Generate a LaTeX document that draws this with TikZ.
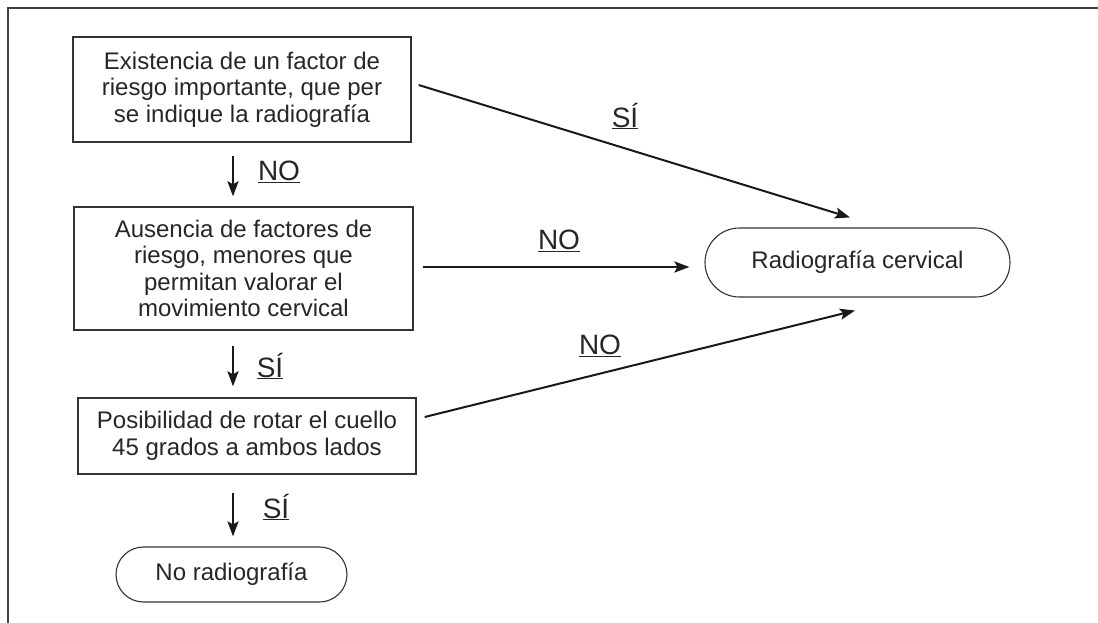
\documentclass[tikz,border=0pt]{standalone}
\usepackage{fontspec}
\setmainfont{Liberation Sans}
\usetikzlibrary{arrows.meta,calc,shapes.misc}
\begin{document}
\begin{tikzpicture}[x=1pt,y=-1pt,
  txt/.style={font=\fontsize{24}{26.5}\selectfont, text=black!85, align=center, inner sep=0pt},
  box/.style={txt, draw=black!80, line width=1.3pt, rectangle},
  term/.style={txt, draw=black!80, line width=1.1pt, rounded rectangle},
  lab/.style={font=\fontsize{28}{30}\selectfont, text=black!85, inner sep=0pt},
  arr/.style={line width=2pt, draw=black!90, -{Stealth[length=15pt,width=11pt,inset=3pt]}},
  downarr/.style={arr, line width=2.4pt},
  frameline/.style={line width=2.2pt, draw=black!75}]
\useasboundingbox (0,0) rectangle (1098,623);
% frame (cropped)
\coordinate (fa) at (8,623);
\coordinate (fb) at (8,8);
\coordinate (fc) at (1098,8);
\draw[frameline] (fa) -- (fb) -- (fc);

% nodes
\node[box, minimum width=338pt, minimum height=105pt] (b1) at (242,89.5)
  {Existencia de un factor de\\riesgo importante, que per\\se indique la radiografía};
\node[box, minimum width=339pt, minimum height=123pt] (b2) at (243.5,268.5)
  {Ausencia de factores de\\riesgo, menores que\\permitan valorar el\\movimiento cervical};
\node[box, minimum width=338pt, minimum height=76pt] (b3) at (247,436)
  {Posibilidad de rotar el cuello\\45 grados a ambos lados};
\node[term, minimum width=231pt, minimum height=55pt] (t1) at (231.5,574.5) {No radiografía};
\node[term, minimum width=305pt, minimum height=69pt] (rc) at (857.5,262.5) {Radiografía cervical};

% labels
\node[lab] (l1) at (279,172) {\underline{NO}};
\node[lab] (l2) at (270,366) {\underline{SÍ}};
\node[lab] (l3) at (276,507) {\underline{SÍ}};
\node[lab] (l4) at (625,116) {\underline{SÍ}};
\node[lab] (l5) at (559,241) {\underline{NO}};
\node[lab] (l6) at (600,346) {\underline{NO}};

% connectors
\draw[downarr] ($(b1.south)+(-9,13)$) -- ($(b2.north)+(-10.5,-10)$);
\draw[downarr] ($(b2.south)+(-10.5,15)$) -- ($(b3.north)+(-14,-11)$);
\draw[downarr] ($(b3.south)+(-14,18)$) -- ($(t1.north)+(1.5,-10)$);
\draw[arr] ($(b1.east)+(7,-4.5)$) -- ($(rc.north)+(-7.5,-10)$);
\draw[arr, line width=2.6pt] ($(b2.east)+(9,-1.5)$) -- ($(rc.west)+(-15,4.5)$);
\draw[arr] ($(b3.east)+(8,-19)$) -- ($(rc.south)+(-2.5,13)$);
\end{tikzpicture}
\end{document}
